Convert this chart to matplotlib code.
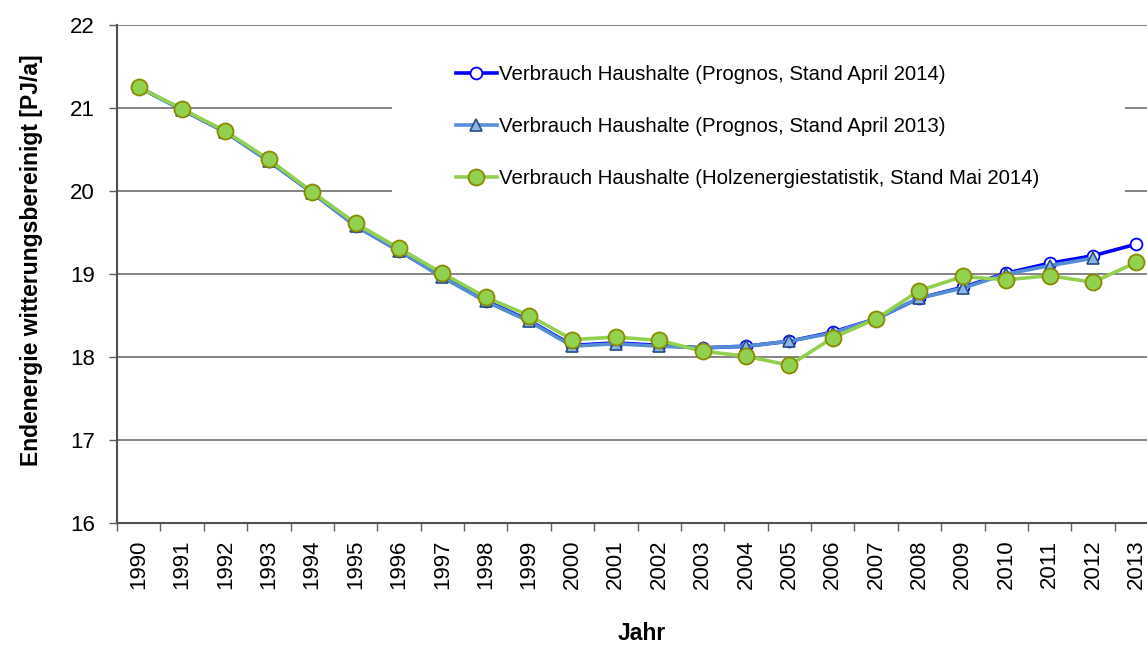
import numpy as np
import matplotlib.pyplot as plt
from matplotlib.patches import Rectangle

plt.rcParams['font.family'] = ['Liberation Sans', 'DejaVu Sans']

years = [str(y) for y in range(1990, 2014)]

# Verbrauch Haushalte (Prognos, Stand April 2014)
prognos_2014 = [21.25, 20.98, 20.71, 20.36, 19.98, 19.58, 19.28, 18.97, 18.68, 18.44,
                18.14, 18.17, 18.14, 18.11, 18.13, 18.19, 18.30, 18.46, 18.71, 18.84,
                19.01, 19.13, 19.22, 19.36]
# Verbrauch Haushalte (Prognos, Stand April 2013) - ends 2012
prognos_2013 = [21.25, 20.98, 20.71, 20.36, 19.98, 19.58, 19.28, 18.96, 18.67, 18.43,
                18.13, 18.16, 18.13, 18.11, 18.13, 18.19, 18.29, 18.46, 18.71, 18.83,
                19.00, 19.10, 19.19]
# Verbrauch Haushalte (Holzenergiestatistik, Stand Mai 2014)
holz_2014 = [21.25, 20.99, 20.72, 20.38, 19.99, 19.61, 19.31, 19.01, 18.72, 18.50,
             18.21, 18.24, 18.20, 18.07, 18.01, 17.90, 18.23, 18.46, 18.80, 18.97,
             18.93, 18.98, 18.90, 19.14]

labels = ['Verbrauch Haushalte (Prognos, Stand April 2014)',
          'Verbrauch Haushalte (Prognos, Stand April 2013)',
          'Verbrauch Haushalte (Holzenergiestatistik, Stand Mai 2014)']

W, H = 1147, 646
fig = plt.figure(figsize=(W / 100, H / 100), dpi=100)
# plot area runs a bit past the right edge, like the original
ax = fig.add_axes([117 / W, 123 / H, (1158 - 117) / W, (523 - 25) / H])

x = np.arange(len(years))

ax.plot(x, prognos_2014, color='#0000FF', lw=2.6, marker='o', ms=8.5,
        mfc='white', mec='#0000FF', mew=1.3, label=labels[0], zorder=3)
ax.plot(x[:len(prognos_2013)], prognos_2013, color='#558ED5', lw=2.6, marker='^', ms=9,
        mfc='#8EB4E3', mec='#254E86', mew=1.2, label=labels[1], zorder=4)
ax.plot(x, holz_2014, color='#92D050', lw=2.6, marker='o', ms=11.5,
        mfc='#92D050', mec='#8A8A00', mew=1.3, label=labels[2], zorder=5)

ax.set_xlim(-0.5, len(years) - 0.5)
ax.set_ylim(16, 22)
ax.set_yticks(range(16, 23))
ax.set_xticks(x)
ax.set_xticklabels(years, rotation=90)
ax.set_xticks(np.arange(-0.5, len(years), 1.0), minor=True)
ax.tick_params(axis='x', which='major', length=0, pad=12, labelsize=16)
ax.tick_params(axis='x', which='minor', length=6, color='#606060', width=1)
ax.tick_params(axis='y', length=6, color='#606060', width=1, labelsize=16, pad=10)

for v in range(17, 23):
    ax.axhline(v, color='#707070', lw=1.2, zorder=1)

for s in ['top', 'right']:
    ax.spines[s].set_visible(False)
for s in ['left', 'bottom']:
    ax.spines[s].set_color('#505050')
    ax.spines[s].set_linewidth(1.5)

fig.text(32 / W, 1 - 260 / H, 'Endenergie witterungsbereinigt [PJ/a]', fontsize=16.5,
         fontweight='bold', rotation=90, ha='center', va='center')
fig.text(642 / W, 1 - 633 / H, 'Jahr', fontsize=16.5, fontweight='bold',
         ha='center', va='center')

# white legend area hiding the gridlines behind it
ax.add_patch(Rectangle(((392 - 117) / 1041, (523 - 215) / 498), (1125 - 392) / 1041,
                       (215 - 32) / 498, transform=ax.transAxes, facecolor='white',
                       edgecolor='none', zorder=2))

leg = ax.legend(loc='upper left', bbox_to_anchor=((456 - 117) / 1041, (523 - 65) / 498),
                frameon=False, fontsize=14.7, handlelength=2.0, handletextpad=0.1,
                labelspacing=1.62, borderaxespad=0, borderpad=0)
leg.set_zorder(10)

fig.savefig('out.png', dpi=100)
